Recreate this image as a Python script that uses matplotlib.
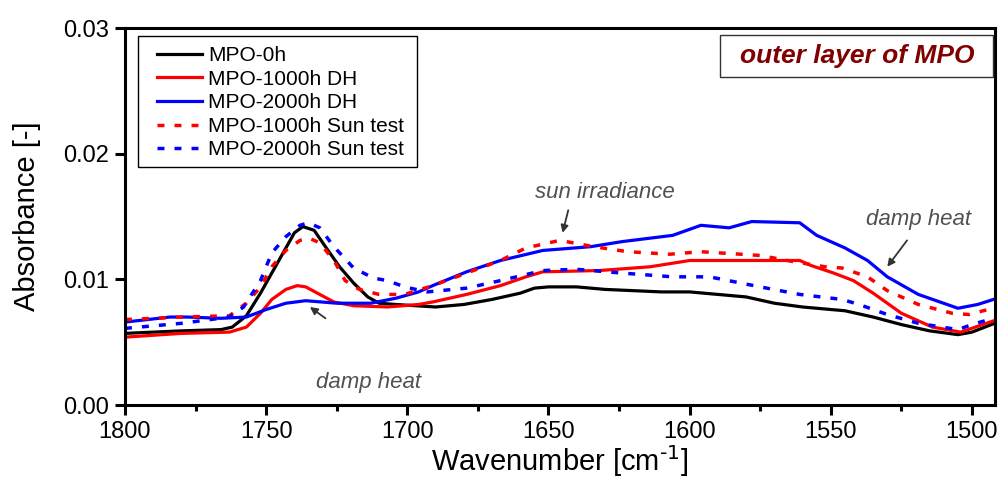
import matplotlib.pyplot as plt
from matplotlib.patches import Rectangle
from matplotlib.ticker import MultipleLocator

plt.rcParams['font.family'] = ['Liberation Sans', 'DejaVu Sans']

# wavenumber (cm-1) and absorbance
wn_0h = [1800, 1780, 1766, 1762, 1757, 1752, 1746, 1740, 1737, 1733, 1729, 1724, 1719,
         1714, 1710, 1704, 1690, 1680, 1670, 1660, 1655, 1650, 1640, 1630, 1620, 1610,
         1600, 1590, 1580, 1570, 1560, 1550, 1545, 1535, 1525, 1515, 1505, 1500, 1492]
abs_0h = [0.0057, 0.0059, 0.0060, 0.0062, 0.0071, 0.0089, 0.0113, 0.0137, 0.0142, 0.0139,
          0.0126, 0.0110, 0.0097, 0.0086, 0.0081, 0.0080, 0.0078, 0.0080, 0.0084, 0.0089,
          0.0093, 0.0094, 0.0094, 0.0092, 0.0091, 0.0090, 0.0090, 0.0088, 0.0086, 0.0081,
          0.0078, 0.0076, 0.0075, 0.0070, 0.0064, 0.0059, 0.0056, 0.0058, 0.0065]

wn_dh1000 = [1800, 1780, 1763, 1757, 1752, 1748, 1743, 1739, 1736, 1731, 1726, 1719, 1707,
             1696, 1691, 1679, 1667, 1658, 1652, 1632, 1614, 1600, 1596, 1561, 1557, 1549,
             1542, 1535, 1525, 1514, 1504, 1491]
abs_dh1000 = [0.0054, 0.0057, 0.0058, 0.0062, 0.0073, 0.0084, 0.0092, 0.0095, 0.0094, 0.0088,
              0.0082, 0.0079, 0.0078, 0.0080, 0.0082, 0.0088, 0.0095, 0.0102, 0.0106, 0.0107,
              0.0110, 0.0115, 0.0115, 0.0115, 0.0111, 0.0105, 0.0099, 0.0089, 0.0073, 0.0062,
              0.0058, 0.0068]

wn_dh2000 = [1800, 1784, 1778, 1766, 1757, 1750, 1743, 1736, 1725, 1713, 1704, 1696, 1691,
             1679, 1667, 1652, 1635, 1624, 1606, 1596, 1586, 1578, 1561, 1555, 1545, 1537,
             1530, 1519, 1505, 1498, 1491]
abs_dh2000 = [0.0066, 0.0070, 0.0070, 0.0069, 0.0070, 0.0076, 0.0081, 0.0083, 0.0081, 0.0081,
              0.0085, 0.0090, 0.0095, 0.0106, 0.0115, 0.0123, 0.0126, 0.0130, 0.0135, 0.0143,
              0.0141, 0.0146, 0.0145, 0.0135, 0.0125, 0.0115, 0.0102, 0.0088, 0.0077, 0.0080,
              0.0085]

wn_sun1000 = [1800, 1780, 1763, 1757, 1752, 1748, 1743, 1738, 1735, 1731, 1726, 1722, 1717,
              1710, 1701, 1691, 1679, 1667, 1658, 1646, 1634, 1622, 1607, 1596, 1575, 1563,
              1552, 1546, 1537, 1530, 1519, 1507, 1501, 1491]
abs_sun1000 = [0.0068, 0.0070, 0.0071, 0.0081, 0.0094, 0.0110, 0.0123, 0.0131, 0.0133, 0.0129,
               0.0115, 0.0099, 0.0092, 0.0088, 0.0088, 0.0095, 0.0105, 0.0115, 0.0125, 0.0131,
               0.0126, 0.0122, 0.0120, 0.0122, 0.0119, 0.0114, 0.0110, 0.0109, 0.0102, 0.0091,
               0.0080, 0.0073, 0.0072, 0.0078]

wn_sun2000 = [1800, 1780, 1763, 1758, 1752, 1748, 1743, 1738, 1735, 1731, 1726, 1719, 1712,
              1707, 1701, 1693, 1679, 1667, 1652, 1640, 1624, 1606, 1593, 1575, 1561, 1546,
              1540, 1530, 1519, 1505, 1500, 1491]
abs_sun2000 = [0.0061, 0.0065, 0.0070, 0.0078, 0.0099, 0.0121, 0.0134, 0.0143, 0.0145, 0.0141,
               0.0126, 0.0109, 0.0101, 0.0099, 0.0094, 0.0090, 0.0093, 0.0099, 0.0107, 0.0108,
               0.0105, 0.0102, 0.0102, 0.0094, 0.0088, 0.0084, 0.0080, 0.0072, 0.0065, 0.0060,
               0.0064, 0.0070]

fig = plt.figure(figsize=(10.03, 4.78), dpi=100)
ax = fig.add_axes([0.1246, 0.1527, 0.867, 0.7887])

dot = (0, (2, 2.9))
ax.plot(wn_0h, abs_0h, color="black", lw=2.3, label="MPO-0h")
ax.plot(wn_dh1000, abs_dh1000, color="#ff0000", lw=2.3, label="MPO-1000h DH")
ax.plot(wn_dh2000, abs_dh2000, color="#0000ff", lw=2.3, label="MPO-2000h DH")
ax.plot(wn_sun1000, abs_sun1000, color="#ff0000", lw=2.5, ls=dot, label="MPO-1000h Sun test")
ax.plot(wn_sun2000, abs_sun2000, color="#0000ff", lw=2.5, ls=dot, label="MPO-2000h Sun test")

ax.set_xlim(1800, 1492)
ax.set_ylim(0, 0.03)
ax.xaxis.set_major_locator(MultipleLocator(50))
ax.xaxis.set_minor_locator(MultipleLocator(25))
ax.yaxis.set_major_locator(MultipleLocator(0.01))
ax.yaxis.set_major_formatter(plt.FuncFormatter(lambda v, p: f"{v:.2f}"))

for s in ax.spines.values():
    s.set_linewidth(2.2)
ax.tick_params(which="major", direction="out", length=7.5, width=2.2, labelsize=17, pad=4)
ax.tick_params(which="minor", direction="out", length=4, width=2.2)
ax.tick_params(axis="y", which="minor", left=False)

ax.set_xlabel("Wavenumber [cm$^{\\text{-1}}$]", fontsize=21, labelpad=0)
ax.set_ylabel("Absorbance [-]", fontsize=21, labelpad=16)

# legend: entries without frame, box drawn separately to match the reference padding
leg = ax.legend(loc="upper left", fontsize=15, frameon=False, borderpad=0, borderaxespad=0,
                handlelength=2.16, handletextpad=0.3, labelspacing=0.22,
                bbox_to_anchor=(0.0368, 0.952))
ax.add_patch(Rectangle((0.0149, 0.631), 0.3205, 0.348, transform=ax.transAxes,
                       fill=False, ec="black", lw=1, zorder=5))

ax.add_patch(Rectangle((0.684, 0.870), 0.314, 0.111, transform=ax.transAxes,
                       fc="white", ec="#333333", lw=1, zorder=5))
ax.text(0.842, 0.926, "outer layer of MPO", transform=ax.transAxes, ha="center", va="center",
        fontsize=19, fontweight="bold", fontstyle="italic", color="#800000", zorder=6)

grey = "#505050"
arrow = dict(arrowstyle="-|>", color="#333333", lw=1.3, shrinkA=0, shrinkB=0, mutation_scale=11)
ax.text(1630, 0.0169, "sun irradiance", ha="center", va="center", fontsize=16,
        fontstyle="italic", color=grey)
ax.annotate("", xy=(1645, 0.0137), xytext=(1643, 0.0155), arrowprops=arrow)
ax.text(1519, 0.0148, "damp heat", ha="center", va="center", fontsize=16,
        fontstyle="italic", color=grey)
ax.annotate("", xy=(1530, 0.0110), xytext=(1523, 0.0131), arrowprops=arrow)
ax.annotate("", xy=(1734.5, 0.0078), xytext=(1729, 0.0069), arrowprops=arrow)
ax.text(1713.6, 0.0018, "damp heat", ha="center", va="center", fontsize=16,
        fontstyle="italic", color=grey)

plt.savefig("out.png", dpi=100)
